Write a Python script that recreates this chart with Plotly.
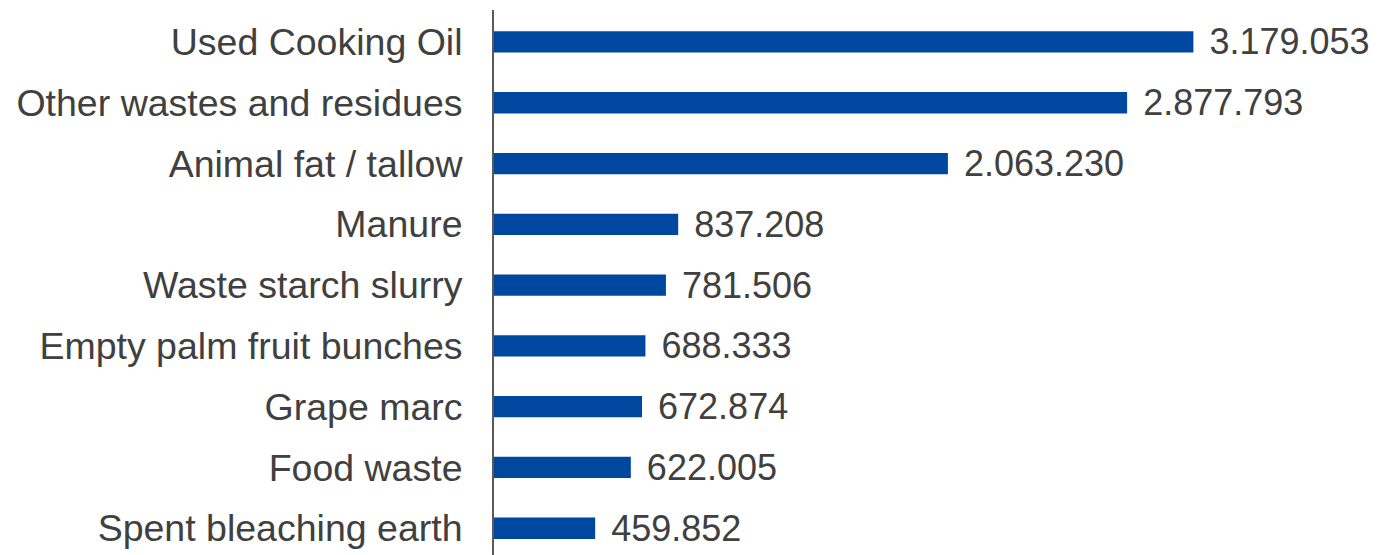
import plotly.graph_objects as go

categories = ["Used Cooking Oil", "Other wastes and residues", "Animal fat / tallow", "Manure",
              "Waste starch slurry", "Empty palm fruit bunches", "Grape marc", "Food waste",
              "Spent bleaching earth"]
values = [3179053, 2877793, 2063230, 837208, 781506, 688333, 672874, 622005, 459852]

FONT = "Liberation Sans, Arial"
fig = go.Figure(go.Bar(
    y=list(range(len(categories))), x=values, orientation="h",
    marker=dict(color="#0047A0", line=dict(width=0)),
    width=0.35,
    texttemplate=" \u200a%{x:,}", textposition="outside", constraintext="none",
    textfont=dict(size=36, color="#404040", family=FONT),
    cliponaxis=False,
))
fig.update_layout(
    width=1372, height=547,
    margin=dict(l=486, r=6, t=2, b=0),
    plot_bgcolor="white", paper_bgcolor="white",
    separators=",.",
    showlegend=False,
    font=dict(family=FONT, size=37.5, color="#404040"),
    xaxis=dict(range=[0, 4000000], visible=False, showgrid=False, zeroline=False, automargin=False),
    yaxis=dict(range=[8.44, -0.526], showline=True, linecolor="#595959", linewidth=2,
               tickmode="array", tickvals=list(range(len(categories))), ticktext=categories,
               ticks="", ticklabelstandoff=22, showgrid=False, zeroline=False, automargin=False,
               tickfont=dict(size=37.5, color="#404040", family=FONT)),
)
fig.write_html("out.html")
